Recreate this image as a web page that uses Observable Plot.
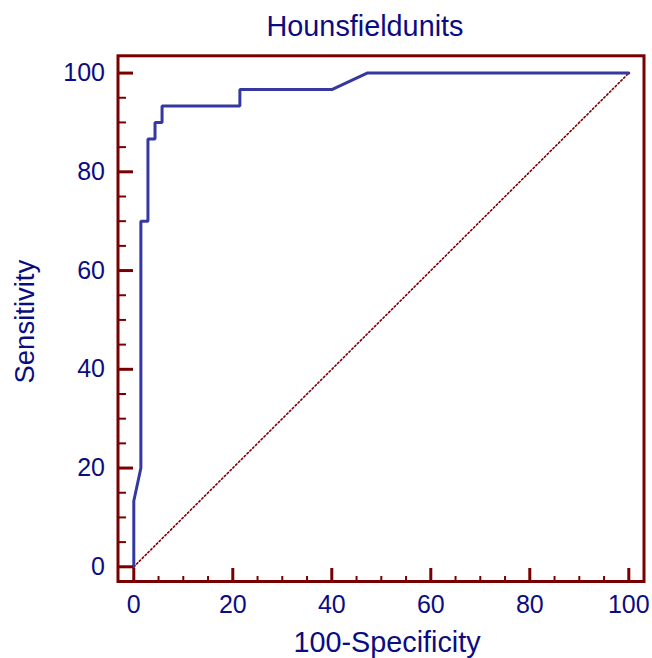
<!DOCTYPE html>
<html><head><meta charset="utf-8">
<script src="https://cdn.jsdelivr.net/npm/d3@7"></script>
<script src="https://cdn.jsdelivr.net/npm/@observablehq/plot@0.6"></script>
<style>
body{margin:0;background:#fff}
#chart svg{display:block;font-family:"Liberation Sans",Arial,sans-serif}
</style>
</head><body><div id="chart"></div>
<script>
// ---- data ----
const title = "Hounsfieldunits";
const xLabel = "100-Specificity";
const yLabel = "Sensitivity";
const fpr = [0, 0, 1.43, 1.43, 2.86, 2.86, 4.29, 4.29, 5.71, 5.71, 21.43, 21.43, 40, 47.14, 100];
const tpr = [0, 13.33, 20, 70, 70, 86.67, 86.67, 90, 90, 93.33, 93.33, 96.67, 96.67, 100, 100];
const diagX = [0, 100];
const diagY = [0, 100];
const majorTicks = [0, 20, 40, 60, 80, 100];
const minorTicks = [5, 10, 15, 25, 30, 35, 45, 50, 55, 65, 70, 75, 85, 90, 95];

// ---- styling ----
const W = 652, H = 658;
const mL = 117.5, mR = 8.5, mT = 55.3, mB = 77;
const innerW = W - mL - mR, innerH = H - mT - mB;
const frameColor = "#780000";
const textColor = "#0c0c82";
const curveColor = "#3438a0";

const curve = fpr.map((x, i) => ({x, y: tpr[i]}));
const diag = diagX.map((x, i) => ({x, y: diagY[i]}));

const chart = Plot.plot({
  width: W, height: H,
  marginLeft: mL, marginRight: mR, marginTop: mT, marginBottom: mB,
  style: {fontFamily: '"Liberation Sans", Arial, sans-serif', background: "#fff"},
  x: {domain: [-3.19, 103.07]},
  y: {domain: [-2.98, 103.5]},
  marks: [
    Plot.line(diag, {x: "x", y: "y", stroke: frameColor, strokeWidth: 1.6, strokeDasharray: "1.6 2.4"}),
    Plot.line(curve, {x: "x", y: "y", stroke: curveColor, strokeWidth: 3, strokeLinejoin: "miter"}),
    Plot.tickX(majorTicks, {x: d => d, insetTop: innerH - 13, stroke: frameColor, strokeWidth: 3}),
    Plot.tickX(minorTicks, {x: d => d, insetTop: innerH - 5, stroke: frameColor, strokeWidth: 2}),
    Plot.tickY(majorTicks, {y: d => d, insetRight: innerW - 15.5, stroke: frameColor, strokeWidth: 3}),
    Plot.tickY(minorTicks, {y: d => d, insetRight: innerW - 8.5, stroke: frameColor, strokeWidth: 2}),
    Plot.axisX({ticks: majorTicks, tickSize: 0, tickPadding: 14, fontSize: 25, fill: textColor, label: null}),
    Plot.axisY({ticks: majorTicks, tickSize: 0, tickPadding: 13, fontSize: 25, fill: textColor, label: null}),
    Plot.frame({stroke: frameColor, strokeWidth: 3}),
    Plot.text([title], {frameAnchor: "top", textAnchor: "middle", dx: -16, dy: -20.3, lineAnchor: "bottom", fontSize: 28.8, fill: textColor}),
    Plot.text([xLabel], {frameAnchor: "bottom", textAnchor: "middle", dx: 6, dy: 70, lineAnchor: "bottom", fontSize: 28.8, fill: textColor}),
    Plot.text([yLabel], {frameAnchor: "left", textAnchor: "middle", dx: -84.2, dy: 3, rotate: -90, lineAnchor: "bottom", fontSize: 27.5, fill: textColor})
  ]
});
document.getElementById("chart").appendChild(chart);
</script>
</body></html>
